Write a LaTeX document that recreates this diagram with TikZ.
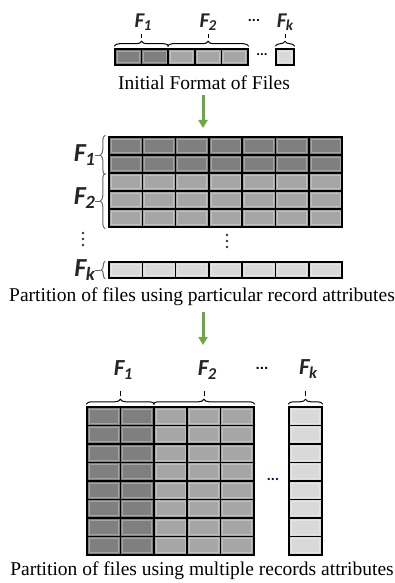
\documentclass[tikz,border=0pt]{standalone}
\usepackage{fontspec}
\setmainfont{Liberation Serif}
\newfontfamily\labfont{Carlito}
\usetikzlibrary{arrows.meta, positioning, decorations.pathreplacing}

\definecolor{darkcell}{HTML}{7F7F7F}
\definecolor{midcell}{HTML}{A6A6A6}
\definecolor{lightcell}{HTML}{D9D9D9}
\definecolor{arrowgreen}{HTML}{6BAA3E}

\newcommand{\Flab}[1]{F\kern-0.5pt\raisebox{-0.3ex}{\fontsize{0.72em}{1em}\selectfont #1}}

\begin{document}
\begin{tikzpicture}[
    x=1pt, y=-1pt,
    every node/.style={inner sep=0pt},
    cell/.style={draw=black, line width=1.5pt, inner sep=0pt,
        path picture={\draw[white, opacity=0.3, line width=0.8pt]
            ([shift={(2.2pt,-2.2pt)}]path picture bounding box.north west) rectangle
            ([shift={(-2.2pt,2.2pt)}]path picture bounding box.south east);}},
    tcell/.style={cell, minimum width=26.6, minimum height=16},
    mcell/.style={cell, minimum width=33.3, minimum height=18},
    bcell/.style={cell, minimum width=33.4, minimum height=18.5},
    brc/.style={decorate, decoration={brace, amplitude=5pt}, line width=1pt},
    sidebrc/.style={brc, draw=black!60},
    flab/.style={font=\labfont\bfseries\itshape\fontsize{#1}{#1}\selectfont, text=black!85},
    flab/.default=18,
    caption/.style={font=\fontsize{19.5}{21}\selectfont},
    garrow/.style={-{Triangle[length=8pt, width=9pt]}, line width=3pt, draw=arrowgreen},
]
\useasboundingbox (0,0) rectangle (395,583);

% === INITIAL FORMAT ===
\foreach \i in {1,2}
  \node[tcell, fill=darkcell] (t\i) at ({115+26.6*(\i-0.5)},57) {};
\foreach \i in {3,4,5}
  \node[tcell, fill=midcell] (t\i) at ({115+26.6*(\i-0.5)},57) {};
\node[tcell, fill=lightcell, minimum width=18] (tk) at (285,57) {};
\node[font=\labfont\bfseries\fontsize{14}{14}\selectfont] (tdots) at (262,55) {...};

\draw[brc] ([yshift=2pt]t1.north west) -- ([yshift=2pt]t2.north east) coordinate[midway] (tb1);
\draw[brc] ([yshift=2pt]t3.north west) -- ([yshift=2pt]t5.north east) coordinate[midway] (tb2);
\draw[brc] ([yshift=2pt]tk.north west) -- ([yshift=2pt]tk.north east) coordinate[midway] (tbk);

\node[flab=21] (tf1) at (143,22) {\Flab{1}};
\node[flab=21] (tf2) at (208,22) {\Flab{2}};
\node[font=\labfont\bfseries\fontsize{15}{15}\selectfont] (tfd) at (254,20) {...};
\node[flab=21] (tfk) at (285,22) {\Flab{k}};
\draw[line width=0.8pt] ([yshift=8pt]tb1) -- ([yshift=12pt]tb1);
\draw[line width=0.8pt] ([yshift=8pt]tb2) -- ([yshift=12pt]tb2);
\draw[line width=0.8pt] ([yshift=8pt]tbk) -- ([yshift=12pt]tbk);

\node[caption] (init) at (204,83) {Initial Format of Files};

\coordinate (a1) at (203,128);
\draw[garrow] ([yshift=-5pt]init.south -| a1) -- (a1);

% === PARTITION BY RECORD ===
\foreach \c in {1,...,7} {
  \foreach \r in {1,2}
    \node[mcell, fill=darkcell] (m-\r-\c) at ({109+33.3*(\c-0.5)},{137+18*(\r-0.5)}) {};
  \foreach \r in {3,4,5}
    \node[mcell, fill=midcell] (m-\r-\c) at ({109+33.3*(\c-0.5)},{137+18*(\r-0.5)}) {};
  \node[mcell, fill=lightcell, minimum height=16] (mk-\c) at ({109+33.3*(\c-0.5)},270) {};
}

\draw[sidebrc] ([shift={(-3pt,-1pt)}]m-2-1.south west) -- ([shift={(-3pt,1pt)}]m-1-1.north west) coordinate[midway] (mb1);
\draw[sidebrc] ([shift={(-3pt,-1pt)}]m-5-1.south west) -- ([shift={(-3pt,-1pt)}]m-3-1.north west) coordinate[midway] (mb2);
\draw[sidebrc, decoration={amplitude=4pt}] ([xshift=-3pt]mk-1.south west) -- ([xshift=-3pt]mk-1.north west) coordinate[midway] (mbk);

\node[flab=26, anchor=east] (mf1) at (95,155) {\Flab{1}};
\node[flab=26, anchor=east] (mf2) at (95,198) {\Flab{2}};
\node[flab=26, anchor=east] (mfk) at (95,270) {\Flab{k}};
\draw[black!60, line width=1pt] (mf1.east |- mb1) -- ([xshift=-5pt]mb1);
\draw[black!60, line width=1pt] (mf2.east |- mb2) -- ([xshift=-5pt]mb2);
\draw[black!60, line width=1pt] (mfk.east |- mbk) -- ([xshift=-4pt]mbk);

% vertical dots
\foreach \k in {0,1,2} {
  \fill[black!80] (83,{233+6*\k}) circle (1.4pt);
  \fill[black!80] (227,{235+6*\k}) circle (1.4pt);
}

\node[caption] (ptxt) at (202,297) {Partition of files using particular record attributes};

\coordinate (a2) at (203,345);
\draw[garrow] ([yshift=-6pt]ptxt.south -| a2) -- (a2);

% === PARTITION BY ATTRIBUTE ===
\foreach \r in {1,...,8} {
  \foreach \c in {1,2}
    \node[bcell, fill=darkcell] (b-\r-\c) at ({87+33.4*(\c-0.5)},{407+18.5*(\r-0.5)}) {};
  \foreach \c in {3,4,5}
    \node[bcell, fill=midcell] (b-\r-\c) at ({87+33.4*(\c-0.5)},{407+18.5*(\r-0.5)}) {};
  \node[bcell, fill=lightcell, minimum width=33] (bk-\r) at (305.5,{407+18.5*(\r-0.5)}) {};
}
\node[font=\labfont\bfseries\fontsize{15}{15}\selectfont, text=black!70!blue] (bdots) at (273,479) {...};

\draw[brc] ([yshift=2pt]b-1-1.north west) -- ([yshift=2pt]b-1-2.north east) coordinate[midway] (bb1);
\draw[brc] ([yshift=2pt]b-1-3.north west) -- ([yshift=2pt]b-1-5.north east) coordinate[midway] (bb2);
\draw[brc] ([yshift=2pt]bk-1.north west) -- ([yshift=2pt]bk-1.north east) coordinate[midway] (bbk);
\draw[line width=0.8pt] ([yshift=8pt]bb1) -- ([yshift=13pt]bb1);
\draw[line width=0.8pt] ([yshift=8pt]bb2) -- ([yshift=13pt]bb2);
\draw[line width=0.8pt] ([yshift=8pt]bbk) -- ([yshift=13pt]bbk);

\node[flab=23] (bf1) at (123,370) {\Flab{1}};
\node[flab=23] (bf2) at (207,370) {\Flab{2}};
\node[font=\labfont\bfseries\fontsize{16}{16}\selectfont] (bfd) at (262,368) {...};
\node[flab=23] (bfk) at (308,369) {\Flab{k}};

\node[caption] (btxt) at (202,571) {Partition of files using multiple records attributes};

\end{tikzpicture}
\end{document}
